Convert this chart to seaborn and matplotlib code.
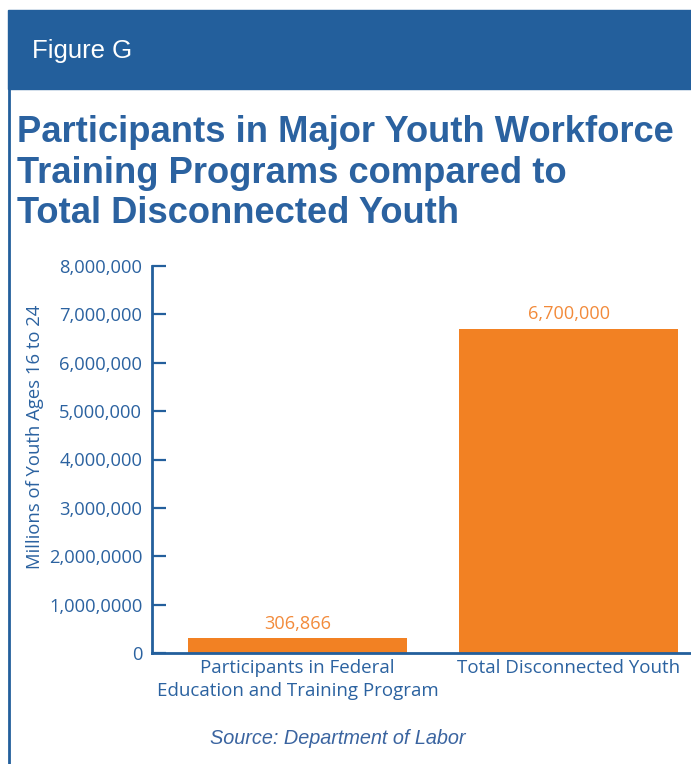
import matplotlib
matplotlib.use("Agg")
import matplotlib.pyplot as plt
from matplotlib.patches import Rectangle
from matplotlib.lines import Line2D
from matplotlib.ticker import FixedLocator, FixedFormatter
import seaborn as sns
import pandas as pd

# Data
categories = ["Participants in Federal\nEducation and Training Program",
              "Total Disconnected Youth"]
values = [306866, 6700000]
value_labels = ["306,866", "6,700,000"]
ytick_values = [0, 1000000, 2000000, 3000000, 4000000, 5000000, 6000000, 7000000, 8000000]
ytick_labels = ["0", "1,000,0000", "2,000,0000", "3,000,000", "4,000,000",
                "5,000,000", "6,000,000", "7,000,000", "8,000,000"]

BLUE = "#235f9c"
TEXT_BLUE = "#2b62a0"
ORANGE = "#f28123"
LABEL_ORANGE = "#f28a3a"

sns.set_theme(style="white")
plt.rcParams["font.family"] = ["Open Sans", "DejaVu Sans"]

W, H = 691, 764
fig = plt.figure(figsize=(W / 100, H / 100), dpi=100)

# Header band and left rule
fig.patches.append(Rectangle((8 / W, 1 - 89 / H), 1 - 8 / W, 79 / H,
                             transform=fig.transFigure, color=BLUE, zorder=0))
fig.lines.append(Line2D([9 / W, 9 / W], [0, 1 - 89 / H], transform=fig.transFigure,
                        color=BLUE, lw=2))
fig.text(32 / W, 1 - 51 / H, "Figure G", color="white", fontsize=18.5,
         family="Liberation Sans", va="center", ha="left")

title = ("Participants in Major Youth Workforce\n"
         "Training Programs compared to\n"
         "Total Disconnected Youth")
fig.text(17 / W, 1 - 115 / H, title, color=TEXT_BLUE, fontsize=26.2,
         family="Liberation Sans", weight="bold", va="top", ha="left",
         linespacing=1.21)

ax = fig.add_axes([152 / W, 1 - 653 / H, (690 - 152) / W, (653 - 266) / H])
df = pd.DataFrame({"category": categories, "value": values})
sns.barplot(data=df, x="category", y="value", color=ORANGE, saturation=1,
            width=0.81, ax=ax, edgecolor="none")

ax.set_xlim(-0.537, 1.448)
ax.set_ylim(0, 8000000)
ax.yaxis.set_major_locator(FixedLocator(ytick_values))
ax.yaxis.set_major_formatter(FixedFormatter(ytick_labels))
ax.tick_params(axis="y", direction="in", length=10, width=1.6, color=BLUE,
               labelcolor=TEXT_BLUE, labelsize=13.2, pad=7, left=True)
ax.tick_params(axis="x", length=0, labelcolor=TEXT_BLUE, labelsize=13.5, pad=4)
for lab in ax.get_xticklabels():
    lab.set_linespacing(1.4)
for side in ["top", "right"]:
    ax.spines[side].set_visible(False)
for side in ["left", "bottom"]:
    ax.spines[side].set_color(BLUE)
    ax.spines[side].set_linewidth(2)
ax.set_xlabel("")
ax.set_ylabel("Millions of Youth Ages 16 to 24", color=TEXT_BLUE, fontsize=13.3)
ax.yaxis.set_label_coords(-0.2, 0.558)

for i, (v, lab) in enumerate(zip(values, value_labels)):
    ax.annotate(lab, (i, v), xytext=(0, 4), textcoords="offset points",
                ha="center", va="bottom", color=LABEL_ORANGE, fontsize=13.1)

fig.text(338 / W, 1 - 739 / H, "Source: Department of Labor", color="#3a64a0",
         fontsize=14.3, family="Liberation Sans", style="italic",
         ha="center", va="center")

fig.savefig("out.png", dpi=100)
